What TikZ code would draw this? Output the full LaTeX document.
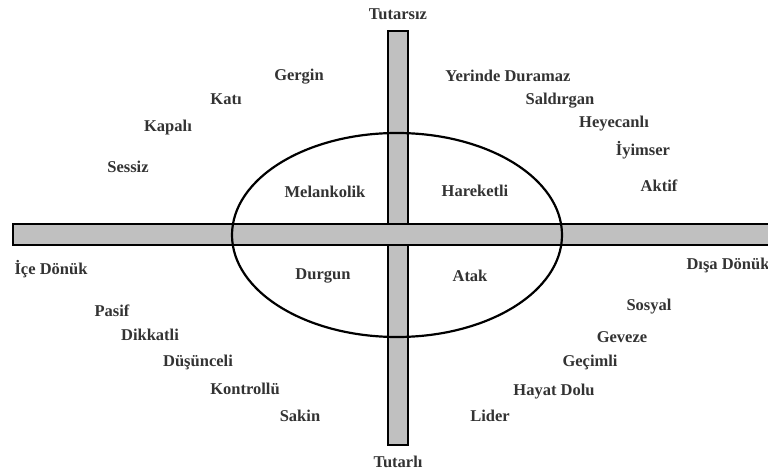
\documentclass[tikz,border=0pt]{standalone}
\usepackage{fontspec}
\setmainfont{Liberation Serif}
\usetikzlibrary{shapes.geometric}
\begin{document}
\begin{tikzpicture}[x=1pt,y=-1pt,
  bar/.style={draw=black,fill=barg,line width=1.8pt},
  lbl/.style={font=\fontsize{16.5}{18}\selectfont\bfseries,text=black!80,inner sep=0pt},
  oval/.style={draw=black,line width=2.2pt}]
\definecolor{barg}{RGB}{192,192,192}
\useasboundingbox (0,0) rectangle (768,473);
\fill[white] (0,0) rectangle (768,473);
\draw[bar] (388,31) rectangle (408,445);
\draw[bar] (13,224) rectangle (775,245);
\node[oval,ellipse,minimum width=330pt,minimum height=204pt,inner sep=0pt] (el) at (397,235) {};
\node[lbl] (tutarsiz) at (398,14) {Tutarsız};
\node[lbl] (tutarli) at (398,462) {Tutarlı};
\node[lbl] (ice) at (51,269) {İçe Dönük};
\node[lbl] (disa) at (728,265) {Dışa Dönük};
\node[lbl] (mel) at (325,192) {Melankolik};
\node[lbl] (har) at (475,191) {Hareketli};
\node[lbl] (dur) at (323,276) {Durgun};
\node[lbl] (atak) at (470,276) {Atak};
\node[lbl] (gergin) at (299,77) {Gergin};
\node[lbl] (kati) at (226,99) {Katı};
\node[lbl] (kapali) at (168,128) {Kapalı};
\node[lbl] (sessiz) at (128,167) {Sessiz};
\node[lbl] (yerinde) at (508,76) {Yerinde Duramaz};
\node[lbl] (saldirgan) at (560,101) {Saldırgan};
\node[lbl] (heyecanli) at (614,124) {Heyecanlı};
\node[lbl] (iyimser) at (643,150) {İyimser};
\node[lbl] (aktif) at (659,186) {Aktif};
\node[lbl] (pasif) at (112,311) {Pasif};
\node[lbl] (dikkatli) at (150,335) {Dikkatli};
\node[lbl] (dusunceli) at (198,362) {Düşünceli};
\node[lbl] (kontrollu) at (245,389) {Kontrollü};
\node[lbl] (sakin) at (300,416) {Sakin};
\node[lbl] (sosyal) at (649,307) {Sosyal};
\node[lbl] (geveze) at (622,337) {Geveze};
\node[lbl] (gecimli) at (590,362) {Geçimli};
\node[lbl] (hayat) at (554,392) {Hayat Dolu};
\node[lbl] (lider) at (490,416) {Lider};
\end{tikzpicture}
\end{document}
